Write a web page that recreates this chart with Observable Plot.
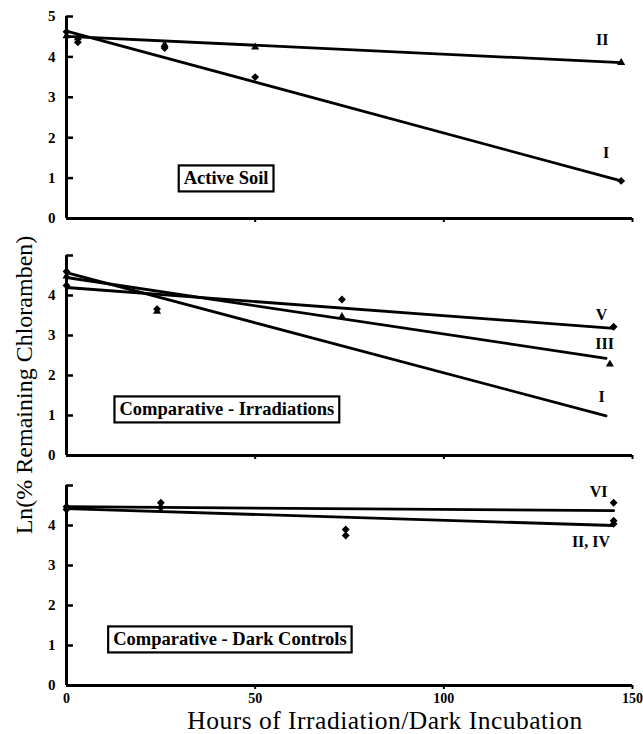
<!DOCTYPE html>
<html><head><meta charset="utf-8">
<script src="https://cdn.jsdelivr.net/npm/d3@7"></script>
<script src="https://cdn.jsdelivr.net/npm/@observablehq/plot@0.6"></script>
<style>
body{margin:0;background:#fff;}
#chart{position:relative;width:643px;height:734px;overflow:hidden;background:#fff;font-family:"Liberation Serif","Times New Roman",serif;color:#000;}
#chart svg{position:absolute;left:0;overflow:visible;}
.ytitle{position:absolute;left:24px;top:385px;transform:translate(-50%,-50%) rotate(-90deg);white-space:nowrap;font-size:24px;line-height:24px;}
.xtitle{position:absolute;left:385px;top:710px;transform:translateX(-50%);white-space:nowrap;font-size:25.5px;line-height:22px;letter-spacing:0.5px;}
</style></head><body><div id="chart"></div><script>
// ---- axis ticks & titles ----
const xTicks = [0, 50, 100, 150];
const xMinorTicks = [50, 100, 150];
const yTicks = [0, 1, 2, 3, 4, 5];
const yLabelsTop = [0, 1, 2, 3, 4, 5];
const yLabelsOther = [0, 1, 2, 3, 4];
const panelTitles = ["Active Soil", "Comparative - Irradiations", "Comparative - Dark Controls"];
const yTitle = "Ln(% Remaining Chloramben)";
const xTitle = "Hours of Irradiation/Dark Incubation";

// ---- Panel 1: Active Soil ----
const activeSoilPoints = [
  {s: "I", h: 0, v: 4.62}, {s: "I", h: 3, v: 4.36}, {s: "I", h: 26, v: 4.22}, {s: "I", h: 50, v: 3.5}, {s: "I", h: 147, v: 0.93},
  {s: "II", h: 0, v: 4.52}, {s: "II", h: 3, v: 4.47}, {s: "II", h: 26, v: 4.3}, {s: "II", h: 50, v: 4.24}, {s: "II", h: 147, v: 3.86}
];
const activeSoilFits = [
  {s: "I", h: 0, v: 4.64}, {s: "I", h: 147, v: 0.93},
  {s: "II", h: 0, v: 4.51}, {s: "II", h: 147, v: 3.86}
];
const activeSoilLabels = [{t: "II", h: 142, v: 4.41}, {t: "I", h: 143, v: 1.63}];
const activeSoilTitleAt = {h: 42.3, v: 0.99};

// ---- Panel 2: Comparative - Irradiations ----
const irradiationPoints = [
  {s: "I", h: 0, v: 4.6}, {s: "I", h: 24, v: 3.66},
  {s: "III", h: 0, v: 4.48}, {s: "III", h: 24, v: 3.6}, {s: "III", h: 73, v: 3.47}, {s: "III", h: 144, v: 2.28},
  {s: "V", h: 0, v: 4.25}, {s: "V", h: 73, v: 3.9}, {s: "V", h: 145, v: 3.22}
];
const irradiationFits = [
  {s: "I", h: 0, v: 4.57}, {s: "I", h: 143, v: 0.99},
  {s: "III", h: 0, v: 4.45}, {s: "III", h: 143, v: 2.43},
  {s: "V", h: 0, v: 4.2}, {s: "V", h: 145, v: 3.18}
];
const irradiationLabels = [{t: "V", h: 141.8, v: 3.52}, {t: "III", h: 142.6, v: 2.78}, {t: "I", h: 141.8, v: 1.46}];
const irradiationTitleAt = {h: 42.5, v: 1.15};

// ---- Panel 3: Comparative - Dark Controls ----
const darkPoints = [
  {s: "VI", h: 0, v: 4.47}, {s: "VI", h: 25, v: 4.57}, {s: "VI", h: 74, v: 3.9}, {s: "VI", h: 145, v: 4.57},
  {s: "II, IV", h: 0, v: 4.4}, {s: "II, IV", h: 25, v: 4.45}, {s: "II, IV", h: 74, v: 3.75}, {s: "II, IV", h: 145, v: 4.12}, {s: "II, IV", h: 145, v: 4.04}
];
const darkFits = [
  {s: "VI", h: 0, v: 4.47}, {s: "VI", h: 145, v: 4.37},
  {s: "II, IV", h: 0, v: 4.42}, {s: "II, IV", h: 145, v: 4.0}
];
const darkLabels = [{t: "VI", h: 141, v: 4.85}, {t: "II, IV", h: 139, v: 3.6}];
const darkTitleAt = {h: 43.3, v: 1.15};

const symbolScale = {
  domain: ["I", "II", "III", "V", "VI", "II, IV"],
  range: ["diamond2", "triangle2", "triangle2", "diamond2", "diamond2", "diamond2"]
};

function panel(cfg) {
  const marks = [
    Plot.ruleY([0], {stroke: "black", strokeWidth: 3}),
    Plot.ruleX([0], {stroke: "black", strokeWidth: 3}),
    Plot.axisY({ticks: yTicks, tickSize: -7, tickFormat: () => "", label: null, strokeWidth: 2.5}),
    Plot.axisY({ticks: cfg.yLabels, tickSize: 0, tickPadding: 11, tickFormat: d => String(d), label: null, fontSize: 15, fontWeight: "bold"}),
    Plot.axisX({ticks: xMinorTicks, tickSize: 4, tickFormat: () => "", label: null, strokeWidth: 2}),
    cfg.showX ? Plot.axisX({ticks: xTicks, tickSize: 0, tickPadding: 8, tickFormat: d => String(d), label: null, fontSize: 14, fontWeight: "bold"}) : null,
    Plot.line(cfg.fits, {x: "h", y: "v", z: "s", stroke: "black", strokeWidth: 2.8}),
    Plot.dot(cfg.points, {x: "h", y: "v", symbol: "s", fill: "black", stroke: "black", r: 2.6}),
    Plot.text(cfg.labels, {x: "h", y: "v", text: "t", fontSize: 16, fontWeight: "bold"}),
    Plot.text([cfg.title], {x: cfg.titleAt.h, y: cfg.titleAt.v, text: d => d, fontSize: 18.5, fontWeight: "bold", className: "panel-title"})
  ];
  const svg = Plot.plot({
    width: 643,
    height: cfg.height,
    marginLeft: 66,
    marginRight: 11,
    marginTop: cfg.marginTop,
    marginBottom: cfg.marginBottom,
    x: {domain: [0, 150], axis: null},
    y: {domain: [0, 5], axis: null},
    symbol: symbolScale,
    style: {fontFamily: "Liberation Serif, Times New Roman, serif", fontSize: "15px", color: "black", background: "transparent", overflow: "visible"},
    marks
  });
  svg.style.top = cfg.top + "px";
  return svg;
}

const chart = document.getElementById("chart");
const svgs = [
  panel({points: activeSoilPoints, fits: activeSoilFits, labels: activeSoilLabels, title: panelTitles[0], titleAt: activeSoilTitleAt,
         yLabels: yLabelsTop, top: 0, height: 230, marginTop: 16, marginBottom: 12, showX: false}),
  panel({points: irradiationPoints, fits: irradiationFits, labels: irradiationLabels, title: panelTitles[1], titleAt: irradiationTitleAt,
         yLabels: yLabelsOther, top: 240, height: 227, marginTop: 15, marginBottom: 12, showX: false}),
  panel({points: darkPoints, fits: darkFits, labels: darkLabels, title: panelTitles[2], titleAt: darkTitleAt,
         yLabels: yLabelsOther, top: 470, height: 264, marginTop: 15, marginBottom: 49, showX: true})
];
svgs.forEach(s => chart.appendChild(s));

// boxes around panel titles
svgs.forEach(svg => {
  const texts = new Set();
  svg.querySelectorAll('.panel-title text, text.panel-title').forEach(t => texts.add(t));
  svg.querySelectorAll('text').forEach(t => { if (panelTitles.includes(t.textContent)) texts.add(t); });
  texts.forEach(t => {
    const b = t.getBBox();
    const r = document.createElementNS("http://www.w3.org/2000/svg", "rect");
    r.setAttribute("x", b.x - 5);
    r.setAttribute("y", b.y - 3);
    r.setAttribute("width", b.width + 10);
    r.setAttribute("height", b.height + 6);
    r.setAttribute("fill", "white");
    r.setAttribute("stroke", "black");
    r.setAttribute("stroke-width", 2.2);
    if (t.getAttribute("transform")) r.setAttribute("transform", t.getAttribute("transform"));
    t.parentNode.insertBefore(r, t);
  });
});

const yt = document.createElement("div");
yt.className = "ytitle";
yt.textContent = yTitle;
chart.appendChild(yt);
const xt = document.createElement("div");
xt.className = "xtitle";
xt.textContent = xTitle;
chart.appendChild(xt);
</script></body></html>
